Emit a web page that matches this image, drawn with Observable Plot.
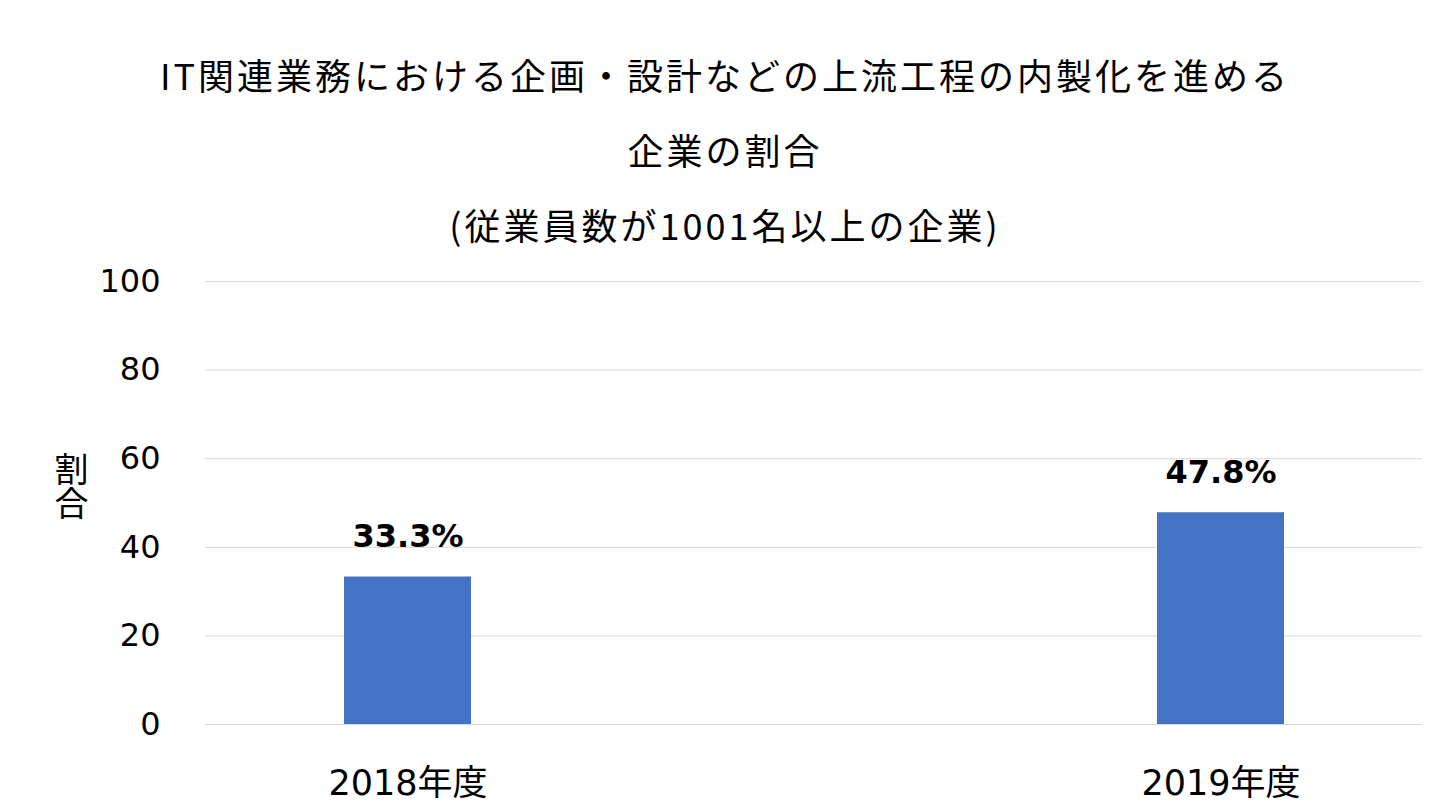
<!DOCTYPE html>
<html><head><meta charset="utf-8">
<script src="https://cdn.jsdelivr.net/npm/d3@7"></script>
<script src="https://cdn.jsdelivr.net/npm/@observablehq/plot@0.6"></script>
<style>
body{margin:0;background:#fff;font-family:"Noto Sans CJK JP",sans-serif;}
#wrap{position:relative;width:1440px;height:810px}
#title{position:absolute;left:0;top:37px;width:1440px;text-align:center;font-size:36px;line-height:75px;color:#000;padding-left:10px;box-sizing:border-box;letter-spacing:3px;z-index:2}
#title div{height:75px;white-space:nowrap}
#ylab{position:absolute;left:54px;top:452px;font-size:34px;writing-mode:vertical-rl;line-height:1;z-index:2}
#chart{position:absolute;left:0;top:0}
</style></head><body>
<div id="wrap">
<div id="title"><div>IT関連業務における企画・設計などの上流工程の内製化を進める</div><div>企業の割合</div><div>(従業員数が1001名以上の企業)</div></div>
<div id="ylab">割合</div>
<div id="chart"></div>
</div>
<script>
const years = ["2018年度","2019年度"];
const shares = [33.3, 47.8];
const labels = ["33.3%","47.8%"];
const yTicks = [0,20,40,60,80,100];
const data = years.map((y,i)=>({year:y, value:shares[i], label:labels[i]}));
const chart = Plot.plot({
  width:1440, height:810,
  marginTop:281, marginBottom:86, marginLeft:205, marginRight:18,
  style:{fontFamily:"'DejaVu Sans','Noto Sans CJK JP',sans-serif", fontSize:"32px", color:"#000", background:"transparent"},
  x:{domain:years, paddingInner:0.844, paddingOuter:0.17, label:null},
  y:{domain:[0,100], ticks:yTicks, label:null},
  marks:[
    Plot.gridY(yTicks,{stroke:"#d9d9d9", strokeOpacity:1}),
    Plot.barY(data,{x:"year", y:"value", fill:"#4472c4"}),
    Plot.text(data,{x:"year", y:"value", text:"label", dy:-40, fontWeight:"bold", fontSize:32}),
    Plot.axisY(yTicks,{tickSize:0, tickPadding:45, fontSize:32}),
    Plot.axisX({tickSize:0, tickPadding:46, fontSize:35})
  ]
});
document.getElementById("chart").appendChild(chart);
</script>
</body></html>
